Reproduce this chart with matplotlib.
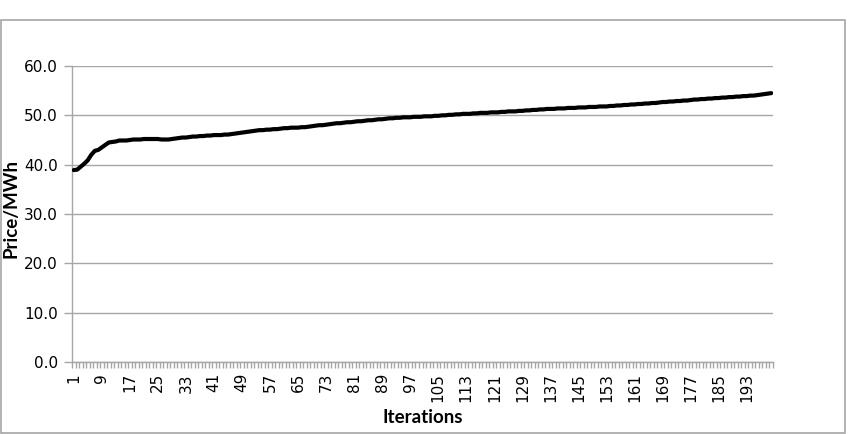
import numpy as np
import matplotlib.pyplot as plt
from matplotlib.patches import Rectangle

# price per iteration
price = [
    38.9, 39.0, 39.6, 40.2, 40.9, 42.0, 42.8, 43.0, 43.5, 44.0,
    44.5, 44.6, 44.7, 44.9, 44.9, 44.9, 45.0, 45.1, 45.1, 45.1,
    45.2, 45.2, 45.2, 45.2, 45.2, 45.1, 45.1, 45.1, 45.2, 45.3,
    45.4, 45.5, 45.5, 45.6, 45.7, 45.7, 45.8, 45.8, 45.9, 45.9,
    46.0, 46.0, 46.0, 46.1, 46.1, 46.2, 46.3, 46.4, 46.5, 46.6,
    46.7, 46.8, 46.9, 47.0, 47.0, 47.1, 47.1, 47.2, 47.2, 47.3,
    47.4, 47.4, 47.5, 47.5, 47.5, 47.6, 47.6, 47.7, 47.8, 47.9,
    48.0, 48.0, 48.1, 48.2, 48.3, 48.4, 48.4, 48.5, 48.6, 48.6,
    48.7, 48.8, 48.8, 48.9, 49.0, 49.0, 49.1, 49.2, 49.2, 49.3,
    49.4, 49.4, 49.5, 49.5, 49.6, 49.6, 49.6, 49.7, 49.7, 49.7,
    49.8, 49.8, 49.8, 49.9, 49.9, 50.0, 50.0, 50.1, 50.1, 50.2,
    50.2, 50.3, 50.3, 50.3, 50.4, 50.4, 50.5, 50.5, 50.5, 50.6,
    50.6, 50.6, 50.7, 50.7, 50.8, 50.8, 50.8, 50.9, 50.9, 51.0,
    51.0, 51.1, 51.1, 51.2, 51.2, 51.3, 51.3, 51.3, 51.4, 51.4,
    51.4, 51.5, 51.5, 51.5, 51.6, 51.6, 51.6, 51.7, 51.7, 51.7,
    51.8, 51.8, 51.8, 51.9, 51.9, 52.0, 52.0, 52.1, 52.1, 52.2,
    52.2, 52.3, 52.3, 52.4, 52.4, 52.5, 52.5, 52.6, 52.7, 52.7,
    52.8, 52.8, 52.9, 52.9, 53.0, 53.0, 53.1, 53.2, 53.2, 53.3,
    53.3, 53.4, 53.4, 53.5, 53.5, 53.6, 53.6, 53.7, 53.7, 53.8,
    53.8, 53.9, 53.9, 54.0, 54.0, 54.1, 54.2, 54.3, 54.4, 54.5,
]
iterations = list(range(1, len(price) + 1))
label_step = 8
y_ticks = [0, 10, 20, 30, 40, 50, 60]

grey = "#A6A6A6"
W, H = 849, 434
ax_w, ax_h = 773 - 72, 362 - 66

fig = plt.figure(figsize=(W / 100, H / 100), dpi=100)
ax = fig.add_axes([72 / W, (H - 362) / H, ax_w / W, ax_h / H])

ax.plot(iterations, price, color="black", lw=3.0, solid_capstyle="round", zorder=3)

ax.set_xlim(0.5, len(price) + 0.5)
ax.set_ylim(0, 60)

# y axis
ax.set_yticks(y_ticks)
ax.set_yticklabels([f"{v:.1f}" for v in y_ticks], fontsize=11, family="DejaVu Sans")
ax.tick_params(axis="y", length=6, color=grey, width=1, pad=4)
ax.yaxis.grid(True, color=grey, lw=1)

# x axis: a tick at every category boundary, label every 8th
ax.set_xticks(np.arange(0.5, len(price) + 1, 1), minor=True)
ax.set_xticks(iterations[::label_step])
ax.set_xticklabels([str(v) for v in iterations[::label_step]], rotation=90,
                   fontsize=11, family="DejaVu Sans")
ax.tick_params(axis="x", which="major", length=0, pad=8)
ax.tick_params(axis="x", which="minor", length=4, color=grey, width=1)

for s in ["top", "right"]:
    ax.spines[s].set_visible(False)
for s in ["left", "bottom"]:
    ax.spines[s].set_color(grey)
    ax.spines[s].set_linewidth(1)

ax.set_ylabel("Price/MWh", fontsize=13.5, fontweight="bold", family="Lato")
ax.yaxis.set_label_coords(-52 / ax_w, (362 - 208) / ax_h)
ax.set_xlabel("Iterations", fontsize=13.5, fontweight="bold", family="Lato")
ax.xaxis.set_label_coords(0.5, -(409 - 362) / ax_h)

# chart border
fig.patches.append(Rectangle((0.5 / W, 1.5 / H), 844 / W, (432 - 19) / H,
                             transform=fig.transFigure, fill=False,
                             edgecolor=grey, lw=1.2))

fig.savefig("out.png", dpi=100)
